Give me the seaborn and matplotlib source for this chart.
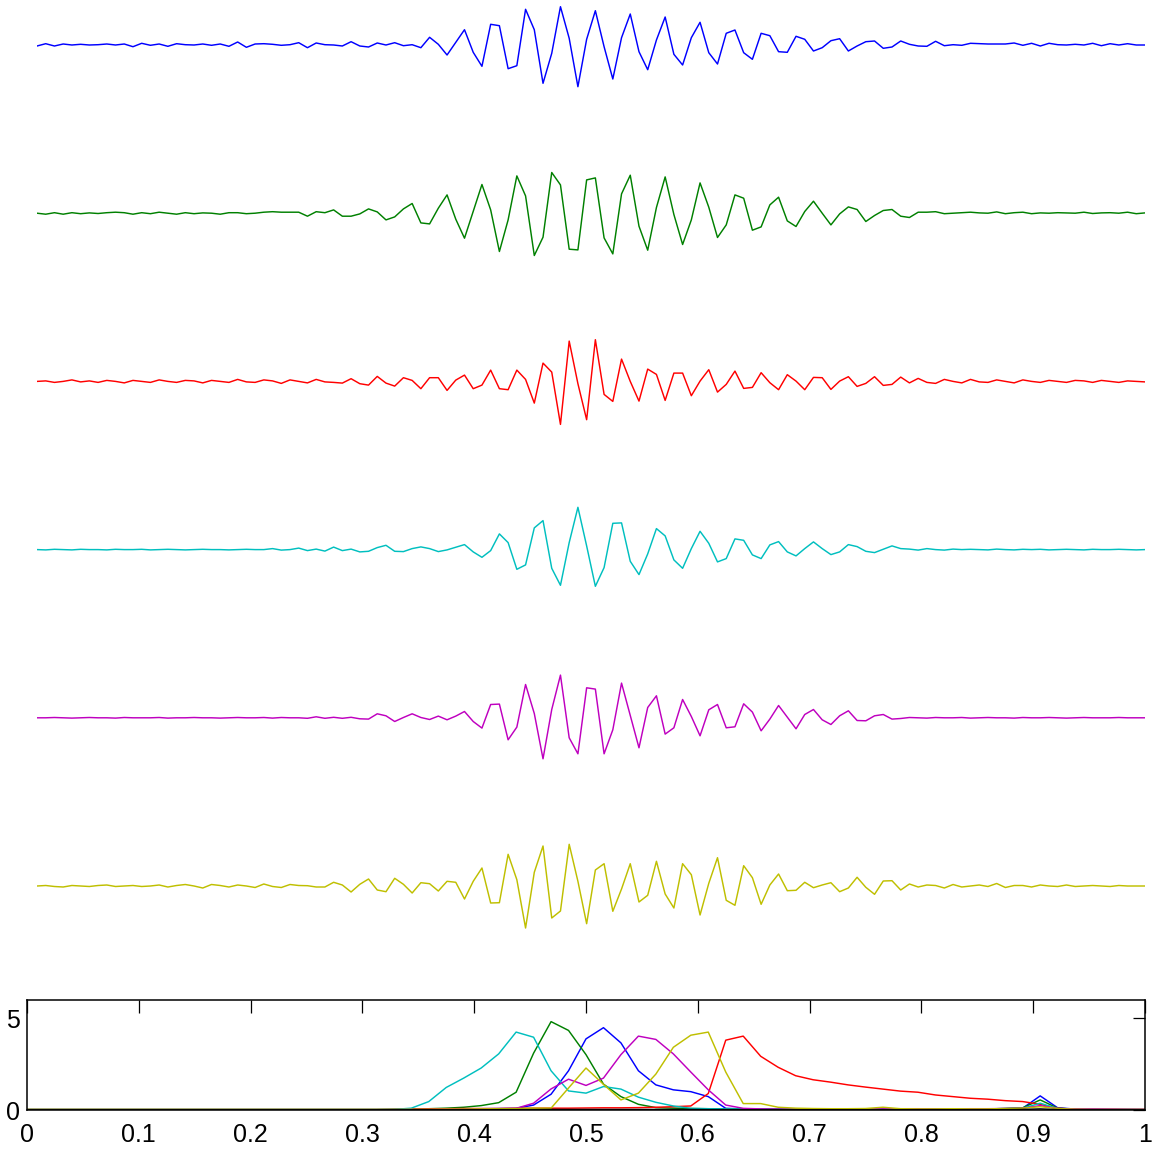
import matplotlib
matplotlib.use("Agg")
import matplotlib.pyplot as plt
import seaborn as sns
import numpy as np
import pandas as pd

# ---------------- data: six 128-sample signals (arbitrary units) ----------------
sig_blue = [
    -1, 1.3, -1, 1, 0, 0.7, 0, 0.3, 1, 0,
    1, -1.7, 1.7, -0.3, 1, -1.3, 1.3, 0.3, 0, 1,
    -0.3, 1, -1.3, 3, -2.3, 1, 1.3, 0.7, -0.3, 0.3,
    2.3, -2.7, 2, 0.3, 0, -1, 3.3, -1, -2, 2,
    0, 2.3, -0.7, 0.3, -2.7, 7.7, 0.7, -10, 2.7, 15.3,
    -7.3, -21.3, 20.7, 19.3, -23.7, -20.7, 35.7, 15.3, -38.3, -8.3,
    38.3, 6.7, -41.7, 5.7, 34.3, -1.7, -34, 7.3, 31, -6.7,
    -24.7, 5, 28, -9.3, -20, 7.3, 22.7, -7.7, -19, 11.7,
    15, -7.7, -14.3, 11.7, 9.3, -6.7, -7.3, 8.7, 5.7, -6,
    -2.7, 4.3, 6.3, -6, -1, 3.3, 4, -3.3, -2, 4,
    0.7, -1, -1.3, 3.7, -0.7, 0.3, -0.3, 1.7, 1.3, 1,
    1, 1, 2, -0.3, 1.7, -1, 1.7, 0.3, 0, 0.7,
    0, 1.7, -0.7, 1.3, 0, 1.3, 0, 0,
]
sig_green = [
    0, -1, 0.5, -1, 0.5, -0.5, 0.3, -0.3, 0.5, 1,
    0.5, -1, 0.5, -0.5, 1, 0, -1, 0.5, -0.5, 0.3,
    0, -1, 0.5, 0.5, -0.5, 0, 1, 1.5, 1, 1,
    1, -3, 1.5, 0.5, 3.3, -3, -3, -0.7, 4.3, 1.3,
    -6.7, -3.7, 4.3, 9.7, -9.7, -10.7, 5, 18.3, -6, -25,
    1.7, 28.7, 3.3, -38.3, -6.7, 37.3, 17.3, -42.3, -24, 40.7,
    28.3, -36, -36.7, 33.3, 35.3, -24.7, -40.7, 19.3, 38, -13,
    -37, 5.7, 36.3, -1.3, -31.3, -6.7, 30.3, 6, -24.3, -11.7,
    18.3, 15, -17, -13.7, 8.3, 16, -7.7, -13.3, 1.7, 12,
    0, -11.7, -0.7, 6.3, 3.7, -8.3, -2.3, 2.7, 3.7, -3,
    -4.3, 1, 1, 1.5, -0.5, 0, 0.5, 1, 0.3, 0,
    1.3, -0.5, 0.5, 1, -0.5, 0.3, 0, 0.5, 0.3, 0,
    1, -0.3, 0.3, 0.5, 0, 1, -0.5, 0.3,
]
sig_red = [
    0, 0.5, -1, 0, 1.5, -0.5, 0.5, -1, 1, 0,
    -1.5, 1, 0, -1, 1.5, 0, -1, 1, 0.5, -1.5,
    1, 0, -1, 2, -0.5, -1, 1.5, 0.5, -2, 1.5,
    0, -1.5, 2, -0.5, -1, -1.7, 2.7, -2.3, -3.7, 5,
    -1.7, -4.7, 3.7, 1, -7.3, 3.7, 3.7, -9, 1.3, 6.3,
    -7.3, -3.7, 11.3, -7.3, -8.3, 11.3, 2, -21.7, 18.3, 9.3,
    -43, 40.3, -2.3, -38.3, 41.7, -13, -20, 22.3, 0, -19.7,
    12.3, 7, -19, 8.3, 8.3, -14.3, 0.3, 11.7, -10.7, -3,
    10.3, -7, -6, 8.7, -1.3, -8.3, 6.7, 0.3, -8.3, 4,
    3.7, -8, 0.3, 4.7, -5, -2, 4.7, -4, -3, 4.3,
    -1.5, 3, -1, -2, 2, 0, -1.5, 2, -0.5, -1,
    1.5, 0, -1.5, 1.5, 0, -1, 1, 0, -1, 1,
    0.5, -1, 1, 0, -1, 0.5, 0, -0.5,
]
sig_cyan = [
    0, -0.3, 0.3, 0, -0.3, 0.3, 0, 0, -0.3, 0.3,
    0, 0, 0.3, -0.3, 0, 0.3, 0, -0.3, 0, 0.3,
    0, 0, -0.3, 0, 0.3, 0, 0, 1, -0.5, 0,
    1.5, -1, 0.5, -1.5, 2.5, -1, 0.5, -2.3, -1.7, 2,
    4.3, -1.7, -2, 1, 2.7, 1, -2, -0.3, 2.3, 5,
    -2.3, -7.7, -1, 15.7, 7, -19.7, -15.3, 21.7, 29, -18.7,
    -35.7, 7, 42.3, 3.7, -36.7, -18, 26.3, 26.7, -11.7, -25,
    -4.3, 21, 13.7, -10.3, -18.7, 1, 18.3, 6.3, -12.3, -9,
    10.7, 9.3, -5.3, -9, 4.7, 8, -2.3, -6.3, 1, 7.7,
    1, -5, -2.3, 5, 3, -1.7, -3, 0.3, 3.7, 1,
    0.5, -0.5, 1, 0, -0.5, 0.5, 0, 0.3, 0, -0.3,
    0.5, 0, -0.3, 0.3, 0, 0.3, -0.3, 0, 0.3, 0,
    -0.3, 0.3, 0, 0, 0.3, 0, -0.3, 0,
]
sig_magenta = [
    0, 0, 0.3, 0, -0.3, 0, 0.3, 0, 0, -0.3,
    0.3, 0, 0, 0, 0.3, -0.3, 0, 0, 0.3, 0,
    0, -0.3, 0, 0.3, 0, 0, 0.3, -0.3, 0.3, 0,
    0, -0.5, 1, -0.5, 0.5, -0.5, 0.5, -1, -1.3, 4,
    2, -3.7, 0.3, 4, 0.3, -1.7, 1.7, -2, 1.7, 6.3,
    -3.7, -10.3, 13.3, 13.7, -22, -9.3, 33.3, 4.3, -41, 8.3,
    42.7, -20, -36, 30, 28.7, -36, -12, 34.7, 2.3, -30,
    10.3, 22, -16.3, -10, 18.3, 1.3, -18, 8, 13.3, -10,
    -9, 14, 5.7, -13, -1.3, 12.3, 0.7, -11, 3.3, 8.3,
    -2, -6.7, 2, 7, -2.7, -3, 2, 3.3, -1.3, -0.7,
    0.3, 0, -0.3, 0.3, 0, 0, 0.3, -0.3, 0, 0.3,
    0, 0, -0.3, 0.3, 0, 0, 0.3, 0, -0.3, 0,
    0.3, 0, 0, 0, 0.3, 0, 0, 0,
]
sig_yellow = [
    0, 0.5, -0.5, -1, 0.5, 0, -0.5, 0.5, 1, -0.5,
    0, 0.5, -0.5, 0, 1, -1, 0.5, 1.5, 0, -2,
    1.5, 0.5, -1, 1, 0, -1.5, 2, -0.5, -1.5, 1.5,
    0.5, 0.3, -1, -1, 3.7, 1, -6, 1.7, 7, -4,
    -5.7, 7.7, 1.7, -7, 3.3, 2.3, -5, 4.7, 3.7, -13,
    4.7, 18, -17, -16.7, 31.7, 6.3, -42, 13.7, 40, -32,
    -25, 41.7, 4.7, -37.7, 16, 22.3, -25.3, -3, 22.3, -16,
    -9.3, 24.7, -8, -22, 22.3, 11.3, -29, 2.7, 28.3, -14.3,
    -19.3, 20.3, 8.3, -18.3, 1, 12, -4.7, -4.3, 3.7, -1.7,
    1, 3.3, -5.7, -2, 8.7, -1.3, -8.3, 5, 5.3, -4,
    2, -1, 1, 0.5, -2, 1.5, -1, 0, 1, -0.5,
    2.5, -1.5, 0.5, 0.5, -1, 1, 0, -0.5, 1, -0.5,
    0, 0.5, 0, -0.5, 0.5, 0, 0, 0,
]

# ---------------- data: spectra at 65 normalised frequencies (k/64) ----------------
freq_ticks = [0, 0.1, 0.2, 0.3, 0.4, 0.5, 0.6, 0.7, 0.8, 0.9, 1]
freq_tick_labels = ["0", "0.1", "0.2", "0.3", "0.4", "0.5", "0.6", "0.7", "0.8", "0.9", "1"]
amp_ticks = [0, 5]

spec_blue = [
    0.02, 0.02, 0.02, 0.02, 0.02, 0.02, 0.02, 0.02, 0.02, 0.02,
    0.02, 0.02, 0.02, 0.02, 0.02, 0.02, 0.02, 0.02, 0.02, 0.02,
    0.02, 0.02, 0.03, 0.04, 0.05, 0.06, 0.07, 0.08, 0.09, 0.27,
    0.86, 2.14, 3.88, 4.49, 3.66, 2.14, 1.37, 1.1, 1.0, 0.73,
    0.09, 0.06, 0.05, 0.04, 0.04, 0.05, 0.04, 0.04, 0.05, 0.04,
    0.05, 0.06, 0.05, 0.05, 0.06, 0.06, 0.08, 0.1, 0.77, 0.12,
    0.05, 0.04, 0.03, 0.03, 0.02,
]
spec_green = [
    0.03, 0.03, 0.03, 0.03, 0.03, 0.03, 0.03, 0.03, 0.03, 0.03,
    0.03, 0.03, 0.03, 0.03, 0.03, 0.03, 0.03, 0.03, 0.03, 0.03,
    0.03, 0.04, 0.05, 0.07, 0.1, 0.15, 0.24, 0.4, 0.97, 3.1,
    4.82, 4.34, 3.02, 1.41, 0.73, 0.31, 0.13, 0.1, 0.08, 0.07,
    0.06, 0.06, 0.05, 0.05, 0.05, 0.06, 0.06, 0.05, 0.05, 0.05,
    0.05, 0.05, 0.05, 0.05, 0.06, 0.06, 0.08, 0.12, 0.55, 0.1,
    0.04, 0.03, 0.03, 0.03, 0.03,
]
spec_red = [
    0.02, 0.02, 0.02, 0.02, 0.02, 0.02, 0.02, 0.02, 0.02, 0.02,
    0.02, 0.02, 0.02, 0.02, 0.02, 0.02, 0.02, 0.02, 0.02, 0.02,
    0.02, 0.03, 0.05, 0.06, 0.07, 0.08, 0.08, 0.08, 0.09, 0.1,
    0.1, 0.1, 0.11, 0.12, 0.12, 0.13, 0.15, 0.18, 0.22, 0.9,
    3.81, 4.03, 2.93, 2.33, 1.87, 1.65, 1.52, 1.37, 1.25, 1.14,
    1.03, 0.97, 0.82, 0.73, 0.64, 0.59, 0.51, 0.46, 0.31, 0.09,
    0.05, 0.03, 0.03, 0.02, 0.02,
]
spec_cyan = [
    0.02, 0.02, 0.02, 0.02, 0.02, 0.02, 0.02, 0.02, 0.02, 0.02,
    0.02, 0.02, 0.02, 0.02, 0.02, 0.02, 0.02, 0.02, 0.02, 0.02,
    0.02, 0.03, 0.1, 0.46, 1.23, 1.74, 2.29, 3.06, 4.25, 3.97,
    2.14, 1.04, 0.92, 1.28, 1.14, 0.7, 0.42, 0.22, 0.09, 0.07,
    0.06, 0.05, 0.05, 0.04, 0.04, 0.05, 0.05, 0.04, 0.04, 0.04,
    0.04, 0.04, 0.05, 0.05, 0.05, 0.06, 0.07, 0.1, 0.37, 0.08,
    0.03, 0.03, 0.02, 0.02, 0.02,
]
spec_magenta = [
    0.02, 0.02, 0.02, 0.02, 0.02, 0.02, 0.02, 0.02, 0.02, 0.02,
    0.02, 0.02, 0.02, 0.02, 0.02, 0.02, 0.02, 0.02, 0.02, 0.02,
    0.02, 0.02, 0.03, 0.03, 0.04, 0.05, 0.06, 0.07, 0.09, 0.37,
    1.15, 1.68, 1.34, 1.74, 3.02, 4.03, 3.85, 3.06, 2.07, 1.1,
    0.27, 0.09, 0.06, 0.05, 0.05, 0.05, 0.05, 0.06, 0.06, 0.06,
    0.07, 0.07, 0.06, 0.06, 0.07, 0.07, 0.08, 0.1, 0.24, 0.08,
    0.05, 0.06, 0.05, 0.04, 0.04,
]
spec_yellow = [
    0.03, 0.03, 0.03, 0.03, 0.03, 0.03, 0.03, 0.03, 0.03, 0.03,
    0.03, 0.03, 0.03, 0.03, 0.03, 0.03, 0.03, 0.03, 0.03, 0.03,
    0.03, 0.03, 0.04, 0.04, 0.05, 0.05, 0.06, 0.07, 0.08, 0.1,
    0.1, 1.2, 2.29, 1.4, 0.55, 0.92, 1.96, 3.42, 4.08, 4.25,
    2.07, 0.35, 0.35, 0.15, 0.1, 0.08, 0.07, 0.07, 0.08, 0.15,
    0.07, 0.06, 0.06, 0.07, 0.06, 0.06, 0.08, 0.1, 0.18, 0.08,
    0.04, 0.03, 0.03, 0.03, 0.03,
]
spec_black = [
    0.01, 0.01, 0.01, 0.01, 0.01, 0.01, 0.01, 0.01, 0.01, 0.01,
    0.01, 0.01, 0.01, 0.01, 0.01, 0.01, 0.01, 0.01, 0.01, 0.01,
    0.01, 0.01, 0.01, 0.01, 0.01, 0.01, 0.01, 0.02, 0.02, 0.02,
    0.03, 0.03, 0.03, 0.03, 0.03, 0.03, 0.03, 0.03, 0.03, 0.02,
    0.02, 0.01, 0.01, 0.01, 0.01, 0.01, 0.01, 0.01, 0.01, 0.01,
    0.01, 0.01, 0.01, 0.01, 0.01, 0.01, 0.02, 0.03, 0.06, 0.02,
    0.01, 0.01, 0.01, 0.01, 0.01,
]

signals = [sig_blue, sig_green, sig_red, sig_cyan, sig_magenta, sig_yellow]
spectra = [spec_blue, spec_green, spec_red, spec_cyan, spec_magenta, spec_yellow, spec_black]
for s in signals:
    assert len(s) == 128, len(s)
for s in spectra:
    assert len(s) == 65, len(s)

# MATLAB-style colour order
colors = [(0, 0, 1), (0, 0.5, 0), (1, 0, 0), (0, 0.75, 0.75),
          (0.75, 0, 0.75), (0.75, 0.75, 0), (0, 0, 0)]

# ---------------- figure ----------------
sns.set_style("white")
plt.rcParams["font.family"] = ["Liberation Sans", "DejaVu Sans"]

W, H = 1155, 1149
fig = plt.figure(figsize=(W / 100, H / 100), dpi=100)

# stacked signals (one axes, no frame); one data unit = one pixel vertically
top_h = 960
ax_top = fig.add_axes([37 / W, (H - top_h) / H, 1108 / W, top_h / H])
sample_idx = np.arange(128)
spacing = 168.2
rows = []
for k, s in enumerate(signals):
    rows.append(pd.DataFrame({"n": sample_idx,
                              "y": np.asarray(s, float) - (45 + spacing * k),
                              "sig": k}))
df_sig = pd.concat(rows, ignore_index=True)
for k in range(len(signals)):
    sns.lineplot(data=df_sig[df_sig["sig"] == k], x="n", y="y", ax=ax_top,
                 color=colors[k], linewidth=1.05, estimator=None, sort=False)
ax_top.set_xlim(0, 127)
ax_top.set_ylim(-top_h, 0)
ax_top.axis("off")

# spectra panel
ax_b = fig.add_axes([27 / W, 39 / H, 1118 / W, 110 / H])
freqs = np.arange(65) / 64.0
rows = []
for k, s in enumerate(spectra):
    rows.append(pd.DataFrame({"f": freqs, "a": s, "sig": k}))
df_spec = pd.concat(rows, ignore_index=True)
for k in range(len(spectra)):
    sns.lineplot(data=df_spec[df_spec["sig"] == k], x="f", y="a", ax=ax_b,
                 color=colors[k], linewidth=1.05, estimator=None, sort=False)
ax_b.set_xlim(0, 1)
ax_b.set_ylim(0, 6)
ax_b.set_xticks(freq_ticks)
ax_b.set_xticklabels(freq_tick_labels)
ax_b.set_yticks(amp_ticks)
ax_b.set_yticklabels([str(t) for t in amp_ticks])
ax_b.set_xlabel("")
ax_b.set_ylabel("")
ax_b.tick_params(axis="both", which="both", direction="in", top=True, right=True,
                 length=9, width=0.9, colors="black", labelsize=18)
ax_b.tick_params(axis="x", pad=9)
ax_b.tick_params(axis="y", pad=5)
for sp in ax_b.spines.values():
    sp.set_visible(True)
    sp.set_color("black")
    sp.set_linewidth(1.1)

fig.savefig("out.png", dpi=100)
